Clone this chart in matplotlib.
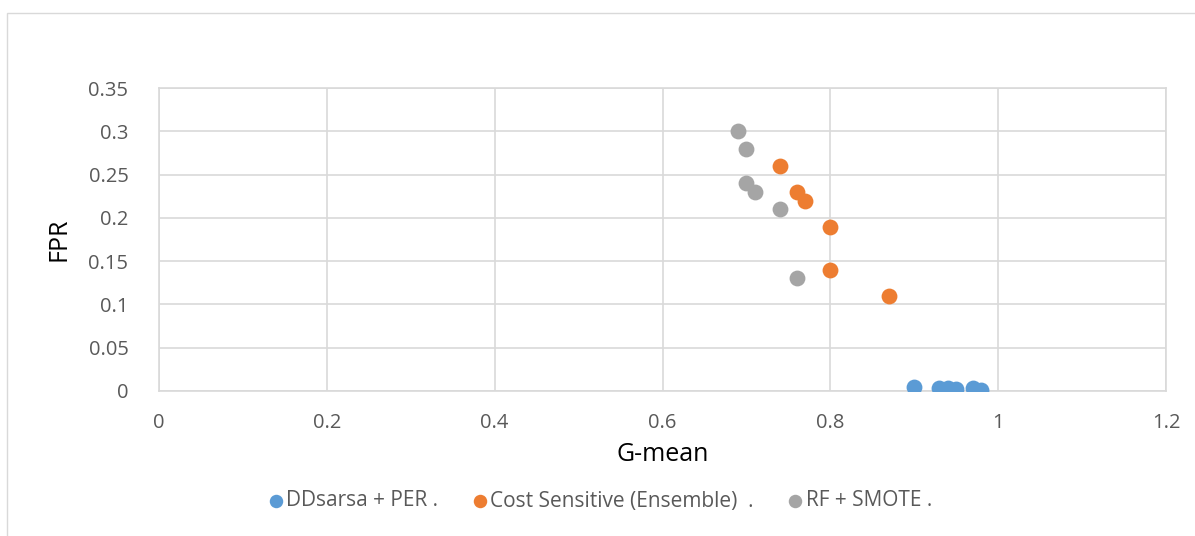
import matplotlib.pyplot as plt
from matplotlib.patches import Rectangle

# data
ddsarsa_x = [0.90, 0.93, 0.94, 0.95, 0.97, 0.98]
ddsarsa_y = [0.005, 0.003, 0.004, 0.002, 0.003, 0.001]
cost_x = [0.74, 0.76, 0.77, 0.80, 0.80, 0.87]
cost_y = [0.26, 0.23, 0.22, 0.19, 0.14, 0.11]
rf_x = [0.69, 0.70, 0.70, 0.71, 0.74, 0.76]
rf_y = [0.30, 0.28, 0.24, 0.23, 0.21, 0.13]
series_names = ['DDsarsa + PER .', 'Cost Sensitive (Ensemble)  .', 'RF + SMOTE .']
x_ticks = [0, 0.2, 0.4, 0.6, 0.8, 1, 1.2]
y_ticks = [0, 0.05, 0.1, 0.15, 0.2, 0.25, 0.3, 0.35]

plt.rcParams['font.family'] = ['Open Sans', 'DejaVu Sans']

fig = plt.figure(figsize=(11.95, 5.36), dpi=100)
# chart frame (left and top edges visible)
fig.patches.append(Rectangle((7 / 1195, -0.1), 1.2, 1 - 13 / 536 + 0.1,
                             transform=fig.transFigure, fill=False,
                             edgecolor='#d9d9d9', linewidth=1))

ax = fig.add_axes([159 / 1195, 1 - 391 / 536, (1166 - 159) / 1195, (391 - 88) / 536])

ax.scatter(ddsarsa_x, ddsarsa_y, s=130, color='#5B9BD5', label=series_names[0], zorder=3, linewidths=0)
ax.scatter(cost_x, cost_y, s=130, color='#ED7D31', label=series_names[1], zorder=3, linewidths=0)
ax.scatter(rf_x, rf_y, s=130, color='#A5A5A5', label=series_names[2], zorder=3, linewidths=0)

ax.set_xlim(0, 1.2)
ax.set_ylim(0, 0.35)
ax.set_xticks(x_ticks)
ax.set_xticklabels(['0', '0.2', '0.4', '0.6', '0.8', '1', '1.2'])
ax.set_yticks(y_ticks)
ax.set_yticklabels(['0', '0.05', '0.1', '0.15', '0.2', '0.25', '0.3', '0.35'])
ax.grid(True, color='#d9d9d9', linewidth=1.2)
ax.set_axisbelow(True)
for sp in ax.spines.values():
    sp.set_color('#d9d9d9')
    sp.set_linewidth(1.2)
ax.tick_params(length=0, labelsize=14.5, colors='#595959')
ax.tick_params(axis='y', pad=22)
ax.tick_params(axis='x', pad=16)

ax.set_xlabel('G-mean', fontsize=18, color='black', labelpad=6)
ax.set_ylabel('FPR', fontsize=18, color='black', labelpad=12)

fig.legend(loc='center', bbox_to_anchor=(0.5, 1 - 501 / 536), ncol=3, frameon=False,
           fontsize=15, labelcolor='#595959', handletextpad=-0.1, columnspacing=1.4,
           markerscale=0.85, handlelength=1.2)

fig.savefig('out.png', dpi=100)
